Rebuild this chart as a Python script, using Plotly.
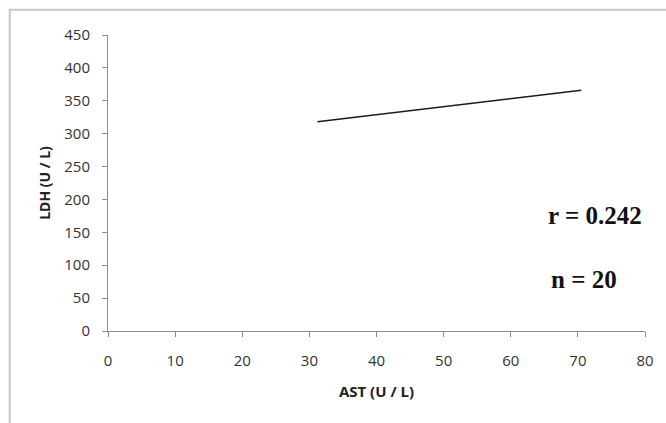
import plotly.graph_objects as go

# Regression line end points
ast_values = [31.2, 70.5]
ldh_values = [318, 366]

x_ticks = [0, 10, 20, 30, 40, 50, 60, 70, 80]
y_ticks = [0, 50, 100, 150, 200, 250, 300, 350, 400, 450]

stats_labels = ["r = 0.242", "n = 20"]

fig = go.Figure()
fig.add_trace(go.Scatter(x=ast_values, y=ldh_values, mode="lines",
                         line=dict(color="#1a1a1a", width=1.5),
                         showlegend=False, hoverinfo="skip"))

axis_common = dict(showgrid=False, zeroline=False, showline=True,
                   linecolor="#8c8c8c", linewidth=1, ticks="outside",
                   tickcolor="#8c8c8c", ticklen=5,
                   tickfont=dict(family="Open Sans, sans-serif", size=15, color="#333"))

fig.update_xaxes(range=[0, 80], tickvals=x_ticks, ticklabelstandoff=11, **axis_common,
                 title=dict(text="<b>AST (U / L)</b>", standoff=17,
                            font=dict(family="Open Sans, sans-serif", size=15, color="#222")))
fig.update_yaxes(range=[0, 450], tickvals=y_ticks, ticklabelstandoff=9, **axis_common,
                 title=dict(text="<b>LDH (U / L)</b>", standoff=10,
                            font=dict(family="Open Sans, sans-serif", size=14, color="#222")))

fig.add_annotation(x=72.5, y=176, xref="x", yref="y", text="<b>" + stats_labels[0] + "</b>",
                   showarrow=False, font=dict(family="Liberation Serif, serif", size=25, color="#111"))
fig.add_annotation(x=70.9, y=79, xref="x", yref="y", text="<b>" + stats_labels[1] + "</b>",
                   showarrow=False, font=dict(family="Liberation Serif, serif", size=25, color="#111"))

# outer chart border
fig.add_shape(type="rect", xref="paper", yref="paper",
              x0=-99/541, x1=1.05, y0=-0.4, y1=1.085,
              line=dict(color="#c8c8c8", width=2), fillcolor="rgba(0,0,0,0)")

fig.update_layout(width=666, height=423, plot_bgcolor="white", paper_bgcolor="white",
                  margin=dict(l=108, r=17, t=35, b=92))

fig.write_html("out.html")
